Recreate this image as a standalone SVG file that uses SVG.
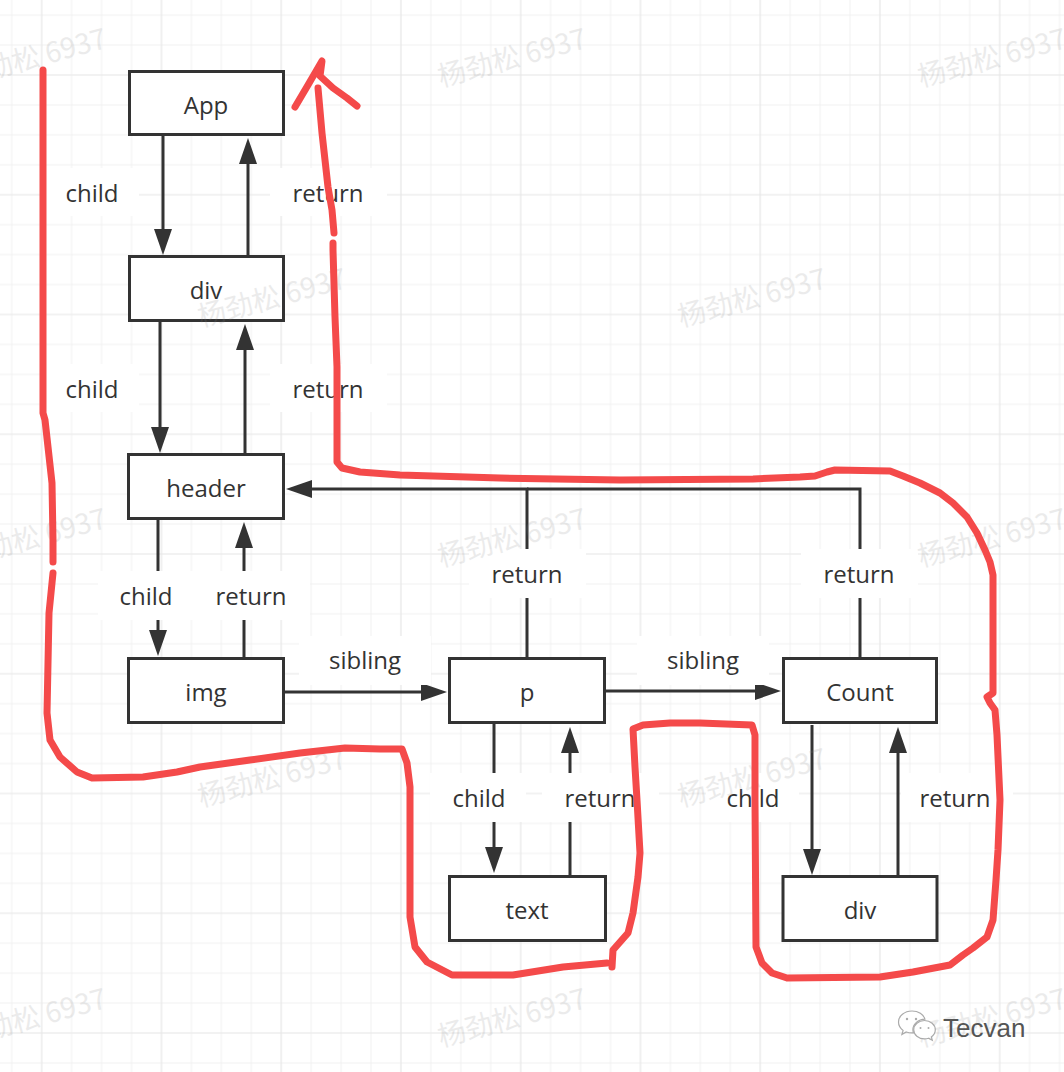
<svg xmlns="http://www.w3.org/2000/svg" width="1064" height="1072" viewBox="0 0 1064 1072">
<style>
.node rect{fill:#fff;stroke:#333;stroke-width:3}
.t{font-family:"Open Sans","Liberation Sans",sans-serif;font-size:24px;fill:#333;text-anchor:middle}
.edge{fill:none;stroke:#333;stroke-width:3;marker-end:url(#ah)}
.plain{fill:none;stroke:#333;stroke-width:3}
.lbg{fill:#fff}
.red{fill:none;stroke:#f44a4a;stroke-width:7;stroke-linecap:round;stroke-linejoin:round}
.wm{font-family:"Noto Sans CJK SC","Liberation Sans",sans-serif;font-size:28px;fill:#888;opacity:0.16}
</style>
<defs>
<pattern id="grid" patternUnits="userSpaceOnUse" x="41.7" y="75" width="119.75" height="119.75">
<path d="M29.94,0V119.75M59.88,0V119.75M89.81,0V119.75M0,29.94H119.75M0,59.88H119.75M0,89.81H119.75" stroke="#f1f1f1" stroke-width="1"/>
<path d="M0,0V119.75M119.75,0V119.75M0,0H119.75M0,119.75H119.75" stroke="#e6e6e6" stroke-width="1.2"/>
</pattern>
<marker id="ah" markerUnits="userSpaceOnUse" markerWidth="26" markerHeight="18" viewBox="0 0 26 18" refX="14" refY="9" orient="auto">
<path d="M0,0L26,9L0,18z" fill="#333"/>
</marker>
</defs>
<rect width="1064" height="1072" fill="#fff"/>
<rect width="1064" height="1072" fill="url(#grid)"/>

<g id="connectors">
<path class="edge" d="M163,136V243"/>
<path class="edge" d="M248,255V150"/>
<path class="edge" d="M160,322V441"/>
<path class="edge" d="M245,454V336"/>
<path class="edge" d="M158,520V644"/>
<path class="edge" d="M244,658V534"/>
<path class="edge" d="M285,692H435"/>
<path class="edge" d="M606,691H769"/>
<path class="plain" d="M860,658V489H527"/>
<path class="edge" d="M527,658V489H298"/>
<path class="edge" d="M494,724V861"/>
<path class="edge" d="M570,876V739"/>
<path class="edge" d="M812,725V863"/>
<path class="edge" d="M898,876V739"/>
</g>

<g id="edge-labels">
<rect class="lbg" x="46" y="168" width="93" height="48"/><text class="t" x="92" y="202">child</text>
<rect class="lbg" x="270" y="168" width="117" height="48"/><text class="t" x="328" y="202">return</text>
<rect class="lbg" x="46" y="364" width="93" height="48"/><text class="t" x="92" y="398">child</text>
<rect class="lbg" x="270" y="364" width="117" height="48"/><text class="t" x="328" y="398">return</text>
<rect class="lbg" x="98" y="571" width="95" height="49"/><text class="t" x="146" y="605">child</text>
<rect class="lbg" x="192" y="571" width="118" height="49"/><text class="t" x="251" y="605">return</text>
<rect class="lbg" x="299" y="636" width="132" height="49"/><text class="t" x="365" y="669">sibling</text>
<rect class="lbg" x="637" y="636" width="132" height="49"/><text class="t" x="703" y="669">sibling</text>
<rect class="lbg" x="469" y="549" width="117" height="49"/><text class="t" x="527" y="583">return</text>
<rect class="lbg" x="801" y="549" width="117" height="49"/><text class="t" x="859" y="583">return</text>
<rect class="lbg" x="430" y="773" width="96" height="49"/><text class="t" x="479" y="807">child</text>
<rect class="lbg" x="542" y="773" width="117" height="49"/><text class="t" x="600" y="807">return</text>
<rect class="lbg" x="706" y="773" width="93" height="49"/><text class="t" x="753" y="807">child</text>
<rect class="lbg" x="901" y="773" width="112" height="49"/><text class="t" x="955" y="807">return</text>
</g>

<g id="node-app" class="node"><rect x="129.5" y="71.5" width="154" height="63"/><text class="t" x="206" y="114">App</text></g>
<g id="node-div1" class="node"><rect x="129.5" y="256.5" width="154" height="64"/><text class="t" x="206" y="299">div</text></g>
<g id="node-header" class="node"><rect x="128.5" y="454.5" width="155" height="64"/><text class="t" x="206" y="497">header</text></g>
<g id="node-img" class="node"><rect x="128.5" y="658.5" width="155" height="64"/><text class="t" x="206" y="701">img</text></g>
<g id="node-p" class="node"><rect x="449.5" y="658.5" width="155" height="64"/><text class="t" x="527" y="701">p</text></g>
<g id="node-count" class="node"><rect x="783.5" y="658.5" width="153" height="64"/><text class="t" x="860" y="701">Count</text></g>
<g id="node-text" class="node"><rect x="449.5" y="876.5" width="156" height="64"/><text class="t" x="527" y="919">text</text></g>
<g id="node-div2" class="node"><rect x="783" y="876.5" width="154" height="64"/><text class="t" x="860" y="919">div</text></g>

<g id="watermarks">
<text class="wm" transform="translate(-39,87) rotate(-15)">杨劲松 6937</text>
<text class="wm" transform="translate(441,87) rotate(-15)">杨劲松 6937</text>
<text class="wm" transform="translate(921,87) rotate(-15)">杨劲松 6937</text>
<text class="wm" transform="translate(201,327) rotate(-15)">杨劲松 6937</text>
<text class="wm" transform="translate(681,327) rotate(-15)">杨劲松 6937</text>
<text class="wm" transform="translate(-39,567) rotate(-15)">杨劲松 6937</text>
<text class="wm" transform="translate(441,567) rotate(-15)">杨劲松 6937</text>
<text class="wm" transform="translate(921,567) rotate(-15)">杨劲松 6937</text>
<text class="wm" transform="translate(201,807) rotate(-15)">杨劲松 6937</text>
<text class="wm" transform="translate(681,807) rotate(-15)">杨劲松 6937</text>
<text class="wm" transform="translate(-39,1047) rotate(-15)">杨劲松 6937</text>
<text class="wm" transform="translate(441,1047) rotate(-15)">杨劲松 6937</text>
<text class="wm" transform="translate(921,1047) rotate(-15)">杨劲松 6937</text>
</g>

<g id="red-trace">
<path class="red" d="M43,70L43,413L45,420L52,483L53,540L53,562"/>
<path class="red" d="M53,573L49,613L47,713L50,740L60,757L77,772L92,778L143,777L177,772L200,767L250,760L300,753L345,748L380,749L402,749L407,763L410,787L410,917L415,947L427,962L452,975L513,975L563,967L607,963"/>
<path class="red" d="M333,243L333,250L335,317L337,367L337,462L342,468L360,472L400,475L500,478L620,480L753,479L800,477L815,476L827,472L835,470L890,471L903,476L920,483L940,493L953,503L967,517L977,533L985,550L990,562L993,575L993,693L987,697L990,703L995,710L997,735L1000,800L998,850L996,880L993,920L987,937L973,948L963,955L950,965L913,972L880,977L787,978L772,973L762,963L756,947L755,800L755,735L752,725L700,723L670,723L643,725L633,729L635,767L637,800L640,853L638,877L633,913L628,933L613,950L612,967"/>
<path class="red" d="M318,88L322,133L328,187L332,210L334,233"/>
<path class="red" d="M295,107L308,85L322,61L320,76L333,88L347,98L357,106"/>
</g>

<g id="brand">
<path d="M912,1011c-7.5,0-13.5,4.9-13.5,11c0,3.4,1.8,6.3,4.6,8.4l-1.2,4l4.4-2.4c1.8,0.6,3.7,0.9,5.7,0.9c0.5,0,1,0,1.4-0.1c-0.3-1-0.5-2-0.5-3c0-5.8,5.3-10.4,12-10.6c-1.2-4.7-6.6-8.2-12.9-8.2z" fill="#fff" stroke="#aaa" stroke-width="1.2"/>
<path d="M924.5,1020.5c-6,0-10.8,4.1-10.8,9.2s4.8,9.2,10.8,9.2c1.5,0,2.9-0.3,4.2-0.7l3.6,2l-1-3.3c2.4-1.7,4-4.2,4-7.2c0-5.1-4.8-9.2-10.8-9.2z" fill="#fff" stroke="#aaa" stroke-width="1.2"/>
<circle cx="907" cy="1019" r="1.2" fill="#aaa"/><circle cx="916" cy="1019" r="1.2" fill="#aaa"/>
<circle cx="920.5" cy="1028" r="1" fill="#aaa"/><circle cx="928.5" cy="1028" r="1" fill="#aaa"/>
<text x="943" y="1037" font-family="Liberation Sans,sans-serif" font-size="26" fill="#555">Tecvan</text>
</g>
</svg>
